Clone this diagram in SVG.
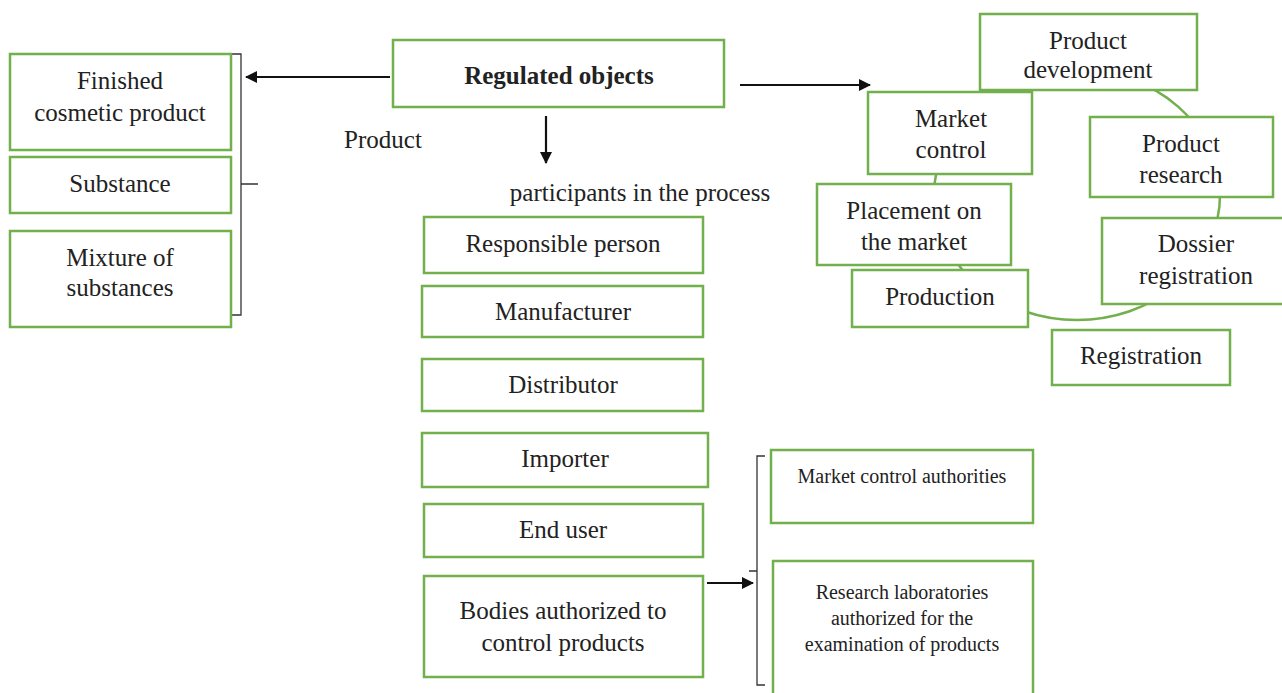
<svg xmlns="http://www.w3.org/2000/svg" width="1282" height="693" viewBox="0 0 1282 693">
<style>
.b{fill:#fff;stroke:#72b04e;stroke-width:2.5}
.t{font-family:"Liberation Serif",serif;font-size:25px;fill:#222;text-anchor:middle}
.s{font-size:20px}
.c{fill:none;stroke:#111;stroke-width:2.2}
.k{fill:none;stroke:#333;stroke-width:1.3}
</style>
<defs>
<marker id="ah" markerWidth="12" markerHeight="12" refX="11" refY="6" orient="auto" markerUnits="userSpaceOnUse" viewBox="0 0 12 12"><path d="M0,0 L12,6 L0,12 z" fill="#111"/></marker>
</defs>
<rect width="1282" height="693" fill="#fff"/>
<ellipse cx="1077" cy="195" rx="143" ry="125" fill="none" stroke="#72b04e" stroke-width="2.5"/>
<g id="connectors">
<line class="c" x1="390" y1="77" x2="246" y2="77" marker-end="url(#ah)"/>
<line class="c" x1="740" y1="85" x2="870" y2="85" marker-end="url(#ah)"/>
<line class="c" x1="546" y1="116" x2="546" y2="163" marker-end="url(#ah)"/>
<line class="c" x1="707" y1="583" x2="753" y2="583" marker-end="url(#ah)"/>
<path class="k" d="M231,54 H241 V315 H231 M241,184 H258"/>
<path class="k" d="M765,456 H757 V685 H765 M757,571 H749"/>
</g>
<g id="n-finished"><rect class="b" x="10" y="54" width="221" height="96"/><text class="t" x="120" y="89">Finished</text><text class="t" x="120" y="121">cosmetic product</text></g>
<g id="n-substance"><rect class="b" x="10" y="157" width="221" height="56"/><text class="t" x="120" y="192">Substance</text></g>
<g id="n-mixture"><rect class="b" x="10" y="231" width="221" height="96"/><text class="t" x="120" y="266">Mixture of</text><text class="t" x="120" y="296">substances</text></g>
<g id="n-regulated"><rect class="b" x="393" y="40" width="331" height="67"/><text class="t" x="559" y="84" font-weight="bold">Regulated objects</text></g>
<g id="l-product"><text class="t" x="383" y="148">Product</text></g>
<g id="l-participants"><text class="t" x="640" y="201">participants in the process</text></g>
<g id="n-responsible"><rect class="b" x="424" y="217" width="279" height="56"/><text class="t" x="563" y="252">Responsible person</text></g>
<g id="n-manufacturer"><rect class="b" x="422" y="286" width="281" height="51"/><text class="t" x="563" y="320">Manufacturer</text></g>
<g id="n-distributor"><rect class="b" x="422" y="359" width="281" height="52"/><text class="t" x="563" y="393">Distributor</text></g>
<g id="n-importer"><rect class="b" x="422" y="433" width="286" height="54"/><text class="t" x="565" y="467">Importer</text></g>
<g id="n-enduser"><rect class="b" x="424" y="504" width="279" height="53"/><text class="t" x="563" y="538">End user</text></g>
<g id="n-bodies"><rect class="b" x="424" y="576" width="279" height="101"/><text class="t" x="563" y="619">Bodies authorized to</text><text class="t" x="563" y="651">control products</text></g>
<g id="n-mca"><rect class="b" x="771" y="450" width="262" height="73"/><text class="t s" x="902" y="483">Market control authorities</text></g>
<g id="n-labs"><rect class="b" x="773" y="561" width="260" height="140"/><text class="t s" x="902" y="599">Research laboratories</text><text class="t s" x="902" y="625">authorized for the</text><text class="t s" x="902" y="651">examination of products</text></g>
<g id="n-devel"><rect class="b" x="980" y="14" width="217" height="76"/><text class="t" x="1088" y="49">Product</text><text class="t" x="1088" y="78">development</text></g>
<g id="n-research"><rect class="b" x="1090" y="117" width="183" height="80"/><text class="t" x="1181" y="152">Product</text><text class="t" x="1181" y="183">research</text></g>
<g id="n-dossier"><rect class="b" x="1102" y="218" width="185" height="86"/><text class="t" x="1196" y="252">Dossier</text><text class="t" x="1196" y="284">registration</text></g>
<g id="n-registration"><rect class="b" x="1052" y="330" width="178" height="55"/><text class="t" x="1141" y="364">Registration</text></g>
<g id="n-marketcontrol"><rect class="b" x="868" y="92" width="164" height="82"/><text class="t" x="951" y="127">Market</text><text class="t" x="951" y="158">control</text></g>
<g id="n-placement"><rect class="b" x="817" y="184" width="194" height="81"/><text class="t" x="914" y="219">Placement on</text><text class="t" x="914" y="250">the market</text></g>
<g id="n-production"><rect class="b" x="852" y="270" width="176" height="57"/><text class="t" x="940" y="305">Production</text></g>
</svg>
